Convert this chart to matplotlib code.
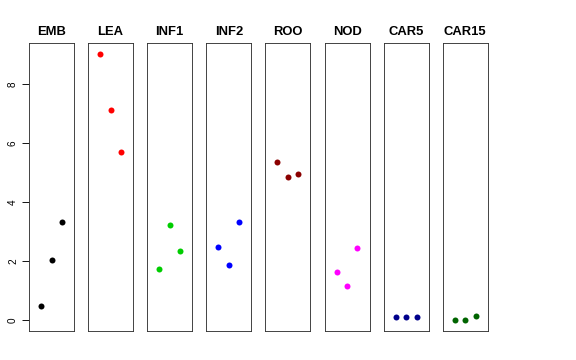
import matplotlib
matplotlib.use("Agg")
import matplotlib.pyplot as plt

plt.rcParams['font.family'] = ['Liberation Sans', 'DejaVu Sans']

# tissue groups, three replicates each
groups = ['EMB', 'LEA', 'INF1', 'INF2', 'ROO', 'NOD', 'CAR5', 'CAR15']
colors = ['black', 'red', '#00CD00', 'blue', '#8B0000', 'magenta', '#00008B', '#006400']
rep1 = [0.47, 9.03, 1.73, 2.49, 5.37, 1.62, 0.11, 0.00]
rep2 = [2.04, 7.12, 3.22, 1.89, 4.85, 1.16, 0.11, 0.00]
rep3 = [3.33, 5.71, 2.36, 3.33, 4.96, 2.46, 0.11, 0.14]
reps = [1, 2, 3]
yticks = [0, 2, 4, 6, 8]

W, H = 576, 360
fig = plt.figure(figsize=(8, 5), dpi=72)

ymin = min(rep1 + rep2 + rep3)
ymax = max(rep1 + rep2 + rep3)
pad = 0.04 * (ymax - ymin)

for i, name in enumerate(groups):
    left = 29 + i * 59.1
    ax = fig.add_axes([left / W, 29 / H, 45 / W, 288 / H])
    vals = [rep1[i], rep2[i], rep3[i]]
    ax.plot(reps, vals, 'o', color=colors[i], ms=6, mec='none')
    ax.set_xlim(-0.16, 4.16)
    ax.set_ylim(ymin - pad, ymax + pad)
    ax.set_xticks([])
    for sp in ax.spines.values():
        sp.set_linewidth(0.9)
        sp.set_color('#333333')
    ax.set_title(name, fontsize=13, fontweight='bold', pad=8)
    if i == 0:
        ax.set_yticks(yticks)
        ax.set_yticklabels([str(t) for t in yticks], rotation=90, va='center', fontsize=10)
        ax.tick_params(axis='y', length=7, width=0.9, pad=4)
    else:
        ax.set_yticks([])

fig.savefig('out.png', dpi=72)
